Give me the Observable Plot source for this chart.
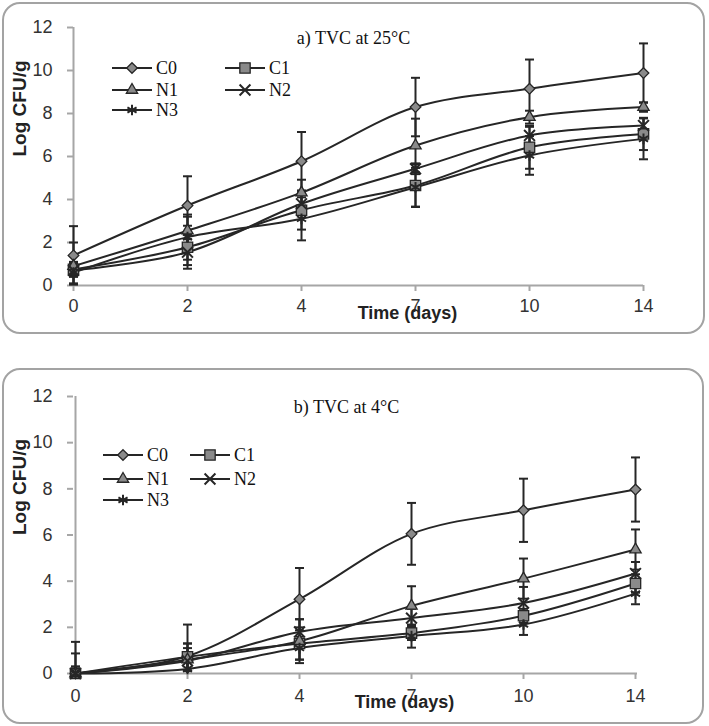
<!DOCTYPE html>
<html><head><meta charset="utf-8">
<script src="https://cdn.jsdelivr.net/npm/d3@7"></script>
<script src="https://cdn.jsdelivr.net/npm/@observablehq/plot@0.6"></script>
<style>
body{margin:0;background:#fff;width:709px;height:726px;position:relative;overflow:hidden}
.panel{position:absolute;left:0}
.box{position:absolute;border:2px solid #a3a3a3;border-radius:18px;box-sizing:border-box;pointer-events:none}
.legend{position:absolute;left:0;overflow:visible}
</style></head><body>
<div id="pa" class="panel" style="top:0"></div>
<div id="pb" class="panel" style="top:366px"></div>
<div class="box" style="left:2px;top:2px;width:703px;height:332px"></div>
<div class="box" style="left:2px;top:368px;width:702px;height:356px"></div>
<script>
const days = ["0", "2", "4", "7", "10", "14"];
const series = ["C0", "C1", "N1", "N2", "N3"];
const yTicks = [0, 2, 4, 6, 8, 10, 12];

// a) TVC at 25°C — means
const a_C0 = [1.40, 3.72, 5.78, 8.30, 9.15, 9.88];
const a_C1 = [0.75, 1.78, 3.50, 4.65, 6.43, 7.05];
const a_N1 = [0.90, 2.55, 4.32, 6.51, 7.83, 8.30];
const a_N2 = [0.70, 1.55, 3.80, 5.43, 6.98, 7.44];
const a_N3 = [0.60, 2.25, 3.10, 4.57, 6.05, 6.82];
// a) standard deviations
const a_C0_sd = [1.36, 1.36, 1.36, 1.36, 1.36, 1.38];
const a_C1_sd = [0.30, 1.00, 0.90, 1.00, 1.00, 0.75];
const a_N1_sd = [1.10, 0.65, 0.60, 1.25, 0.30, 0.22];
const a_N2_sd = [0.30, 0.60, 0.50, 0.25, 0.40, 0.35];
const a_N3_sd = [0.50, 1.05, 1.00, 0.90, 0.90, 0.95];

// b) TVC at 4°C — means
const b_C0 = [0.00, 0.75, 3.22, 6.05, 7.07, 7.97];
const b_C1 = [0.00, 0.72, 1.30, 1.75, 2.50, 3.90];
const b_N1 = [0.00, 0.60, 1.40, 2.93, 4.11, 5.37];
const b_N2 = [0.00, 0.55, 1.80, 2.40, 3.05, 4.33];
const b_N3 = [0.00, 0.20, 1.10, 1.62, 2.12, 3.46];
// b) standard deviations
const b_C0_sd = [1.37, 1.37, 1.35, 1.34, 1.37, 1.39];
const b_C1_sd = [0.20, 0.58, 0.70, 0.30, 0.30, 0.40];
const b_N1_sd = [0.30, 0.50, 0.95, 0.85, 0.87, 0.87];
const b_N2_sd = [0.87, 0.75, 0.55, 0.40, 0.70, 0.50];
const b_N3_sd = [0.30, 0.30, 0.50, 0.50, 0.45, 0.46];

const titles = ["a) TVC at 25°C", "b) TVC at 4°C"];
const xLabel = "Time (days)";
const yLabel = "Log CFU/g";

const symbols = {C0: d3.symbolDiamond2, C1: d3.symbolSquare2, N1: d3.symbolTriangle2, N2: d3.symbolTimes, N3: d3.symbolAsterisk};
const symR = {C0: 4.8, C1: 6.6, N1: 5.4, N2: 5.0, N3: 5.0};
const symFill = {C0: "#8a8a8a", C1: "#8a8a8a", N1: "#8a8a8a", N2: "none", N3: "none"};
const ink = "#262626";
const axisGray = "#a6a6a6";
const capSymbol = {draw(ctx, size) { const w = Math.sqrt(size / Math.PI); ctx.moveTo(-w, 0); ctx.lineTo(w, 0); }};

function buildData(means, sds) {
  const rows = [];
  series.forEach(s => days.forEach((d, j) => rows.push({series: s, day: d, v: means[s][j], sd: sds[s][j]})));
  return rows;
}

function panel(el, cfg) {
  const data = buildData(cfg.means, cfg.sds);
  const lowCaps = data.filter(d => d.v - d.sd >= 0);
  const marks = [
    Plot.ruleX([days[0]], {stroke: axisGray, strokeWidth: 2}),
    Plot.ruleY([0], {stroke: axisGray, strokeWidth: 2}),
    Plot.axisY({ticks: yTicks, tickSize: 6, tickPadding: 15, stroke: axisGray, strokeWidth: 2, fill: "#333", fontSize: 18, label: null}),
    Plot.axisX({tickSize: 6, tickPadding: cfg.xPad, stroke: axisGray, strokeWidth: 2, fill: "#333", fontSize: 18, label: null}),
    Plot.ruleX(data, {x: "day", y1: d => Math.max(0, d.v - d.sd), y2: d => d.v + d.sd, stroke: ink, strokeWidth: 2}),
    Plot.dot(data, {x: "day", y: d => d.v + d.sd, symbol: capSymbol, r: 4.5, stroke: ink, strokeWidth: 2}),
    Plot.dot(lowCaps, {x: "day", y: d => d.v - d.sd, symbol: capSymbol, r: 4.5, stroke: ink, strokeWidth: 2}),
    Plot.line(data, {x: "day", y: "v", z: "series", curve: "catmull-rom", stroke: ink, strokeWidth: 2})
  ];
  series.forEach(s => {
    marks.push(Plot.dot(data.filter(d => d.series === s), {x: "day", y: "v", symbol: symbols[s], r: symR[s], fill: symFill[s], stroke: ink, strokeWidth: s === "N2" || s === "N3" ? 2 : 1.3}));
  });
  marks.push(
    Plot.text([cfg.title], {frameAnchor: "top", dx: cfg.titleDx, dy: 4, fontFamily: "Liberation Serif, Times New Roman, serif", fontSize: 18, fill: "#111"}),
    Plot.text([xLabel], {frameAnchor: "bottom", dx: 49, dy: cfg.xLabDy, fontWeight: "bold", fontSize: 18, fill: "#222"}),
    Plot.text([yLabel], {frameAnchor: "left", rotate: -90, dx: -54, fontWeight: "bold", fontSize: 19, fill: "#222"})
  );
  const chart = Plot.plot({
    width: 709, height: cfg.height,
    marginLeft: 73, marginRight: cfg.mr, marginTop: cfg.mt, marginBottom: cfg.mb,
    x: {type: "point", domain: days, padding: 0},
    y: {domain: [0, 12]},
    style: {fontFamily: "Liberation Sans, Arial, sans-serif", fontSize: "18px", background: "transparent", color: "#222"},
    marks
  });
  el.appendChild(chart);

  // legend
  const lg = d3.select(el).append("svg").attr("class", "legend").attr("width", 709).attr("height", cfg.height)
    .style("top", "0px").style("pointer-events", "none");
  series.forEach((s, i) => {
    const col = i % 2, row = Math.floor(i / 2);
    const x0 = cfg.leg.x[col], y0 = cfg.leg.y[row];
    const g = lg.append("g").attr("transform", `translate(${x0},${y0})`);
    g.append("line").attr("x1", 0).attr("x2", cfg.leg.len).attr("y1", 0).attr("y2", 0).attr("stroke", ink).attr("stroke-width", 2);
    g.append("path").attr("transform", `translate(${cfg.leg.len / 2},0)`)
      .attr("d", d3.symbol(symbols[s], Math.PI * symR[s] * symR[s])())
      .attr("fill", symFill[s]).attr("stroke", ink).attr("stroke-width", s === "N2" || s === "N3" ? 2 : 1.3);
    g.append("text").attr("x", cfg.leg.len + 4).attr("y", 0).attr("dy", "0.35em")
      .attr("font-family", "Liberation Serif, Times New Roman, serif").attr("font-size", 18).attr("fill", "#111").text(s);
  });
}

panel(document.getElementById("pa"), {
  height: 336, mt: 27, mb: 51, mr: 66, xPad: 8, xLabDy: 33, titleDx: -5, title: titles[0],
  means: {C0: a_C0, C1: a_C1, N1: a_N1, N2: a_N2, N3: a_N3},
  sds: {C0: a_C0_sd, C1: a_C1_sd, N1: a_N1_sd, N2: a_N2_sd, N3: a_N3_sd},
  leg: {x: [112, 225], y: [68, 90, 110], len: 40}
});
panel(document.getElementById("pb"), {
  height: 360, mt: 30, mb: 53, mr: 72, xPad: 10, xLabDy: 34, titleDx: -9, title: titles[1],
  means: {C0: b_C0, C1: b_C1, N1: b_N1, N2: b_N2, N3: b_N3},
  sds: {C0: b_C0_sd, C1: b_C1_sd, N1: b_N1_sd, N2: b_N2_sd, N3: b_N3_sd},
  leg: {x: [103, 190], y: [89, 113, 134], len: 40}
});
</script>
</body></html>
